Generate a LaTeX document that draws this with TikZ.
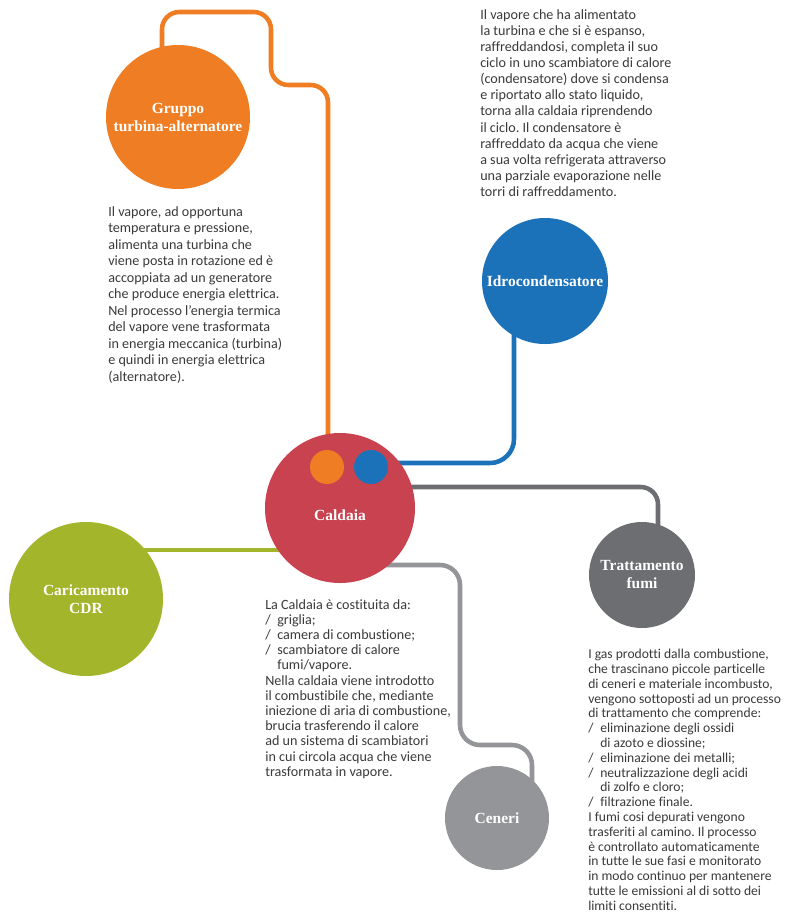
\documentclass[tikz,border=0pt]{standalone}
\usepackage{fontspec}
\setmainfont{Carlito}[Ligatures=NoCommon]
\newfontfamily\labfont{Liberation Serif}
\usetikzlibrary{calc}
\pgfdeclarelayer{bg}
\pgfsetlayers{bg,main}
\definecolor{corange}{HTML}{EE7D23}
\definecolor{cblue}{HTML}{1B72B9}
\definecolor{cred}{HTML}{C9424F}
\definecolor{cgreen}{HTML}{A3B52A}
\definecolor{cdgray}{HTML}{6D6E71}
\definecolor{clgray}{HTML}{949599}
\definecolor{ctext}{HTML}{3A3A3A}
\newcommand\blt{\makebox[9pt][l]{/}}
\newcommand\ind{\hspace*{9pt}}
\frenchspacing
\begin{document}
\begin{tikzpicture}[x=0.75pt,y=-0.75pt,
  bubble/.style={circle, inner sep=0pt, text=white, align=center,
    font=\labfont\bfseries\fontsize{11.6}{13.5}\selectfont},
  lab/.style={inner sep=0pt, text=white, align=center,
    font=\labfont\bfseries\fontsize{11.6}{13.5}\selectfont},
  dot/.style={circle, inner sep=0pt, minimum size=25.5pt},
  link/.style={line width=3.4pt, rounded corners=13pt},
  body/.style={anchor=north west, inner sep=0pt, align=left, text=ctext}]
\useasboundingbox (0,0) rectangle (785,922);

% circles
\node[bubble, fill=corange, minimum size=108pt] (gruppo) at (178,117) {Gruppo\\turbina-alternatore};
\node[bubble, fill=cred, minimum size=112.5pt] (caldaia) at (340,508) {};
\node[lab] (caldaialab) at ($(caldaia.center)+(0,7)$) {Caldaia};
\node[dot, fill=corange] (dotor) at (327,467) {};
\node[dot, fill=cblue] (dotbl) at (371,467) {};
\node[bubble, fill=cblue, minimum size=94.5pt] (idro) at (545,281) {Idrocondensatore};
\node[bubble, fill=cgreen, minimum size=115.5pt] (caric) at (86,599) {Caricamento\\CDR};
\node[bubble, fill=cdgray, minimum size=79.5pt] (tratt) at (642,575) {Trattamento\\fumi};
\node[bubble, fill=clgray, minimum size=78pt] (ceneri) at (497,818) {Ceneri};

% connectors
\coordinate (o1) at (271,12);
\coordinate (o2) at (328,85);
\coordinate (g1) at (460,745);
\begin{pgfonlayer}{bg}
\fill[white] (0,0) rectangle (785,922);
\draw[link, corange] ($(gruppo.center)+(-16,0)$) |- (o1) |- (o2) -- ($(caldaia.center)+(-12,0)$);
\draw[link, cblue, rounded corners=18pt] ($(caldaia.center)+(0,-45)$) -| ($(idro.center)+(-31,0)$);
\draw[link, cdgray] ($(caldaia.center)+(0,-21)$) -| ($(tratt.center)+(16,0)$);
\draw[link, cgreen] ($(caldaia.center)+(0,42)$) -- ($(caric.center)+(0,-49)$);
\draw[link, clgray, rounded corners=15pt] ($(caldaia.center)+(0,57)$) -| (g1) -| ($(ceneri.center)+(35,0)$);
\end{pgfonlayer}

% texts
\node[body, font=\fontsize{10.6}{12.1}\selectfont] (t1) at (480,9) {Il vapore che ha alimentato\\
la turbina e che si è espanso,\\
raffreddandosi, completa il suo\\
ciclo in uno scambiatore di calore\\
(condensatore) dove si condensa\\
e riportato allo stato liquido,\\
torna alla caldaia riprendendo\\
il ciclo. Il condensatore è\\
raffreddato da acqua che viene\\
a sua volta refrigerata attraverso\\
una parziale evaporazione nelle\\
torri di raffreddamento.};

\node[body, font=\fontsize{10.6}{12.4}\selectfont] (t2) at (108,206) {Il vapore, ad opportuna\\
temperatura e pressione,\\
alimenta una turbina che\\
viene posta in rotazione ed è\\
accoppiata ad un generatore\\
che produce energia elettrica.\\
Nel processo l’energia termica\\
del vapore vene trasformata\\
in energia meccanica (turbina)\\
e quindi in energia elettrica\\
(alternatore).};

\node[body, font=\fontsize{10.6}{11.4}\selectfont] (t3) at (265,599) {La Caldaia è costituita da:\\
\blt griglia;\\
\blt camera di combustione;\\
\blt scambiatore di calore\\
\ind fumi/vapore.\\
Nella caldaia viene introdotto\\
il combustibile che, mediante\\
iniezione di aria di combustione,\\
brucia trasferendo il calore\\
ad un sistema di scambiatori\\
in cui circola acqua che viene\\
trasformata in vapore.};

\node[body, font=\fontsize{10.2}{11.1}\selectfont] (t4) at (588,649) {I gas prodotti dalla combustione,\\
che trascinano piccole particelle\\
di ceneri e materiale incombusto,\\
vengono sottoposti ad un processo\\
di trattamento che comprende:\\
\blt eliminazione degli ossidi\\
\ind di azoto e diossine;\\
\blt eliminazione dei metalli;\\
\blt neutralizzazione degli acidi\\
\ind di zolfo e cloro;\\
\blt filtrazione finale.\\
I fumi cosi depurati vengono\\
trasferiti al camino. Il processo\\
è controllato automaticamente\\
in tutte le sue fasi e monitorato\\
in modo continuo per mantenere\\
tutte le emissioni al di sotto dei\\
limiti consentiti.};
\end{tikzpicture}
\end{document}
